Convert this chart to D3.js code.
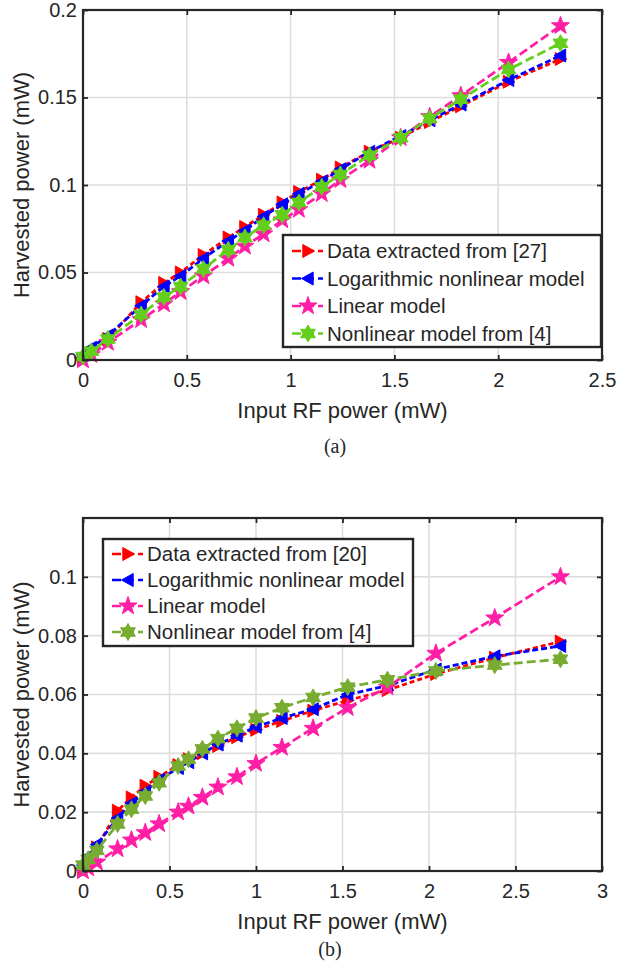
<!DOCTYPE html>
<html>
<head>
<meta charset="utf-8">
<script src="https://cdn.jsdelivr.net/npm/d3@7"></script>
<style>
  body { margin: 0; background: #fff; }
  text { font-family: "Liberation Sans", Arial, sans-serif; fill: #262626; }
</style>
</head>
<body>
<script>
let width = 618;
let height = 971;

// panel (a)
let inputA = [0, 0.04, 0.12, 0.28, 0.39, 0.47, 0.58, 0.7, 0.78, 0.87, 0.96, 1.04, 1.15, 1.24, 1.38, 1.53, 1.67, 1.82, 2.05, 2.3];
let dataA = [0, 0.004, 0.012, 0.033, 0.044, 0.050, 0.060, 0.070, 0.076, 0.083, 0.090, 0.096, 0.103, 0.110, 0.119, 0.127, 0.136, 0.145, 0.159, 0.172];
let logA = [0.003, 0.007, 0.014, 0.031, 0.042, 0.048, 0.058, 0.068, 0.074, 0.082, 0.089, 0.095, 0.102, 0.109, 0.119, 0.128, 0.137, 0.146, 0.160, 0.174];
let linA = [0, 0.003, 0.010, 0.023, 0.032, 0.039, 0.048, 0.058, 0.065, 0.072, 0.080, 0.086, 0.095, 0.103, 0.114, 0.127, 0.139, 0.151, 0.170, 0.191];
let nlA = [0.002, 0.005, 0.012, 0.026, 0.036, 0.042, 0.052, 0.063, 0.070, 0.077, 0.083, 0.090, 0.099, 0.106, 0.117, 0.127, 0.138, 0.149, 0.166, 0.181];
let xTicksA = [0, 0.5, 1, 1.5, 2, 2.5];
let yTicksA = [0, 0.05, 0.1, 0.15, 0.2];
let namesA = ['Data extracted from [27]', 'Logarithmic nonlinear model', 'Linear model', 'Nonlinear model from [4]'];

// panel (b)
let inputB = [0, 0.03, 0.08, 0.2, 0.28, 0.36, 0.44, 0.55, 0.61, 0.69, 0.78, 0.89, 1.0, 1.15, 1.33, 1.53, 1.76, 2.04, 2.38, 2.76];
let dataB = [0, 0.003, 0.008, 0.0205, 0.025, 0.029, 0.032, 0.036, 0.038, 0.040, 0.0425, 0.0455, 0.048, 0.051, 0.0545, 0.058, 0.0615, 0.067, 0.0725, 0.078];
let logB = [0.002, 0.005, 0.009, 0.018, 0.023, 0.027, 0.031, 0.035, 0.037, 0.040, 0.043, 0.046, 0.049, 0.052, 0.055, 0.060, 0.063, 0.0685, 0.073, 0.0765];
let linB = [0, 0.001, 0.003, 0.0075, 0.0105, 0.013, 0.016, 0.020, 0.022, 0.025, 0.0285, 0.032, 0.0365, 0.042, 0.0485, 0.0555, 0.0625, 0.074, 0.086, 0.100];
let nlB = [0.002, 0.004, 0.007, 0.016, 0.021, 0.0255, 0.030, 0.0357, 0.038, 0.0415, 0.045, 0.0485, 0.052, 0.0555, 0.059, 0.0625, 0.065, 0.068, 0.070, 0.072];
let xTicksB = [0, 0.5, 1, 1.5, 2, 2.5, 3];
let yTicksB = [0, 0.02, 0.04, 0.06, 0.08, 0.1];
let namesB = ['Data extracted from [20]', 'Logarithmic nonlinear model', 'Linear model', 'Nonlinear model from [4]'];

let svg = d3.select('body')
    .append('svg')
    .attr('width', width)
    .attr('height', height);

// marker shapes
function triRight(r) {
  return `M${r},0L${-r * 0.8},${-r}L${-r * 0.8},${r}Z`;
}
function triLeft(r) {
  return `M${-r},0L${r * 0.8},${-r}L${r * 0.8},${r}Z`;
}
function starPath(n, rOut, rIn) {
  let pts = d3.range(n * 2).map(i => {
    let a = -Math.PI / 2 + i * Math.PI / n;
    let r = i % 2 ? rIn : rOut;
    return [r * Math.cos(a), r * Math.sin(a)];
  });
  return 'M' + pts.join('L') + 'Z';
}

let markerRed = triRight(6.5);
let markerBlue = triLeft(6.5);
let markerPink = starPath(5, 9.5, 3.8);
let markerGreen = starPath(6, 8.5, 4.9);

function drawPanel(p) {
  let g = svg.append('g');
  let x = d3.scaleLinear().domain([0, p.xMax]).range([p.left, p.right]);
  let y = d3.scaleLinear().domain([0, p.yMax]).range([p.bottom, p.top]);

  // grid
  g.append('g').selectAll('line')
      .data(p.xTicks.filter(v => v > 0 && v < p.xMax))
    .join('line')
      .attr('x1', d => x(d)).attr('x2', d => x(d))
      .attr('y1', p.top).attr('y2', p.bottom)
      .attr('stroke', '#dedede').attr('stroke-width', 1.6);
  g.append('g').selectAll('line')
      .data(p.yTicks.filter(v => v > 0 && v < p.yMax))
    .join('line')
      .attr('y1', d => y(d)).attr('y2', d => y(d))
      .attr('x1', p.left).attr('x2', p.right)
      .attr('stroke', '#dedede').attr('stroke-width', 1.6);

  // series
  let line = d3.line().x(d => x(d[0])).y(d => y(d[1]));
  p.series.forEach(s => {
    let pts = p.input.map((v, i) => [v, s.values[i]]);
    g.append('path')
        .attr('d', line(pts))
        .attr('fill', 'none')
        .attr('stroke', s.color)
        .attr('stroke-width', 2.8)
        .attr('stroke-dasharray', s.dash);
    g.append('g').selectAll('path')
        .data(pts)
      .join('path')
        .attr('d', s.marker)
        .attr('transform', d => `translate(${x(d[0])},${y(d[1])})`)
        .attr('fill', s.color)
        .attr('stroke', s.color)
        .attr('stroke-width', 1);
  });

  // axes
  let fmt = d => String(d);
  g.append('g')
      .attr('transform', `translate(0,${p.bottom})`)
      .call(d3.axisBottom(x).tickValues(p.xTicks).tickFormat(fmt).tickSize(-5).tickPadding(13));
  g.append('g')
      .attr('transform', `translate(${p.left},0)`)
      .call(d3.axisLeft(y).tickValues(p.yTicks).tickFormat(fmt).tickSize(-5).tickPadding(6));
  g.append('g')
      .attr('transform', `translate(0,${p.top})`)
      .call(d3.axisTop(x).tickValues(p.xTicks).tickFormat('').tickSize(-5));
  g.append('g')
      .attr('transform', `translate(${p.right},0)`)
      .call(d3.axisRight(y).tickValues(p.yTicks).tickFormat('').tickSize(-5));
  g.selectAll('.domain').remove();
  g.selectAll('.tick line').attr('stroke', '#262626').attr('stroke-width', 1.8);
  g.selectAll('.tick text')
      .attr('fill', '#262626')
      .style('font-size', '20px')
      .style('font-family', '"Liberation Sans", Arial, sans-serif');

  g.append('rect')
      .attr('x', p.left).attr('y', p.top)
      .attr('width', p.right - p.left).attr('height', p.bottom - p.top)
      .attr('fill', 'none')
      .attr('stroke', '#262626')
      .attr('stroke-width', 2.2);

  // axis titles
  g.append('text')
      .attr('x', (p.left + p.right) / 2)
      .attr('y', p.bottom + 58)
      .attr('text-anchor', 'middle')
      .style('font-size', '22px')
      .text('Input RF power (mW)');
  g.append('text')
      .attr('transform', `translate(29,${(p.top + p.bottom) / 2}) rotate(-90)`)
      .attr('text-anchor', 'middle')
      .style('font-size', '22px')
      .text('Harvested power (mW)');

  g.append('text')
      .attr('x', p.captionX)
      .attr('y', p.caption)
      .attr('text-anchor', 'middle')
      .style('font-family', '"Liberation Serif", "Times New Roman", serif')
      .style('font-size', '20px')
      .attr('fill', '#000')
      .text(p.label);

  // legend
  let lg = g.append('g');
  lg.append('rect')
      .attr('x', p.legend.x).attr('y', p.legend.y)
      .attr('width', p.legend.w).attr('height', p.legend.h)
      .attr('fill', '#fff')
      .attr('stroke', '#262626')
      .attr('stroke-width', 2.4);
  let rows = lg.selectAll('g.row')
      .data(p.series)
    .join('g')
      .attr('class', 'row')
      .attr('transform', (d, i) => `translate(${p.legend.x},${p.legend.y + p.legend.first + i * p.legend.step})`);
  rows.append('line')
      .attr('x1', 9).attr('x2', 40)
      .attr('stroke', d => d.color)
      .attr('stroke-width', 2.6)
      .attr('stroke-dasharray', '9,4');
  rows.append('path')
      .attr('d', d => d.marker)
      .attr('transform', 'translate(25,0)')
      .attr('fill', d => d.color)
      .attr('stroke', d => d.color);
  rows.append('text')
      .attr('x', 44)
      .attr('dy', '0.36em')
      .style('font-size', '20.5px')
      .text(d => d.name);
}

drawPanel({
  left: 83, right: 602, top: 10, bottom: 360, caption: 453, captionX: 335, label: '(a)',
  xMax: 2.5, yMax: 0.2, xTicks: xTicksA, yTicks: yTicksA, input: inputA,
  legend: {x: 283, y: 235, w: 318, h: 112, first: 16, step: 27.5},
  series: [
    {name: namesA[0], values: dataA, color: '#ff0000', marker: markerRed, dash: '5,3'},
    {name: namesA[1], values: logA, color: '#0000ff', marker: markerBlue, dash: '6,3'},
    {name: namesA[2], values: linA, color: '#ff1fa6', marker: markerPink, dash: '9,4'},
    {name: namesA[3], values: nlA, color: '#63cf1c', marker: markerGreen, dash: '9,4'}
  ]
});

drawPanel({
  left: 83, right: 602, top: 518, bottom: 871, caption: 956, captionX: 330, label: '(b)',
  xMax: 3, yMax: 0.12, xTicks: xTicksB, yTicks: yTicksB, input: inputB,
  legend: {x: 103, y: 539, w: 310, h: 107, first: 15, step: 26},
  series: [
    {name: namesB[0], values: dataB, color: '#ff0000', marker: markerRed, dash: '5,3'},
    {name: namesB[1], values: logB, color: '#0000ff', marker: markerBlue, dash: '6,3'},
    {name: namesB[2], values: linB, color: '#ff1fa6', marker: markerPink, dash: '9,4'},
    {name: namesB[3], values: nlB, color: '#77ac30', marker: markerGreen, dash: '9,4'}
  ]
});
</script>
</body>
</html>
